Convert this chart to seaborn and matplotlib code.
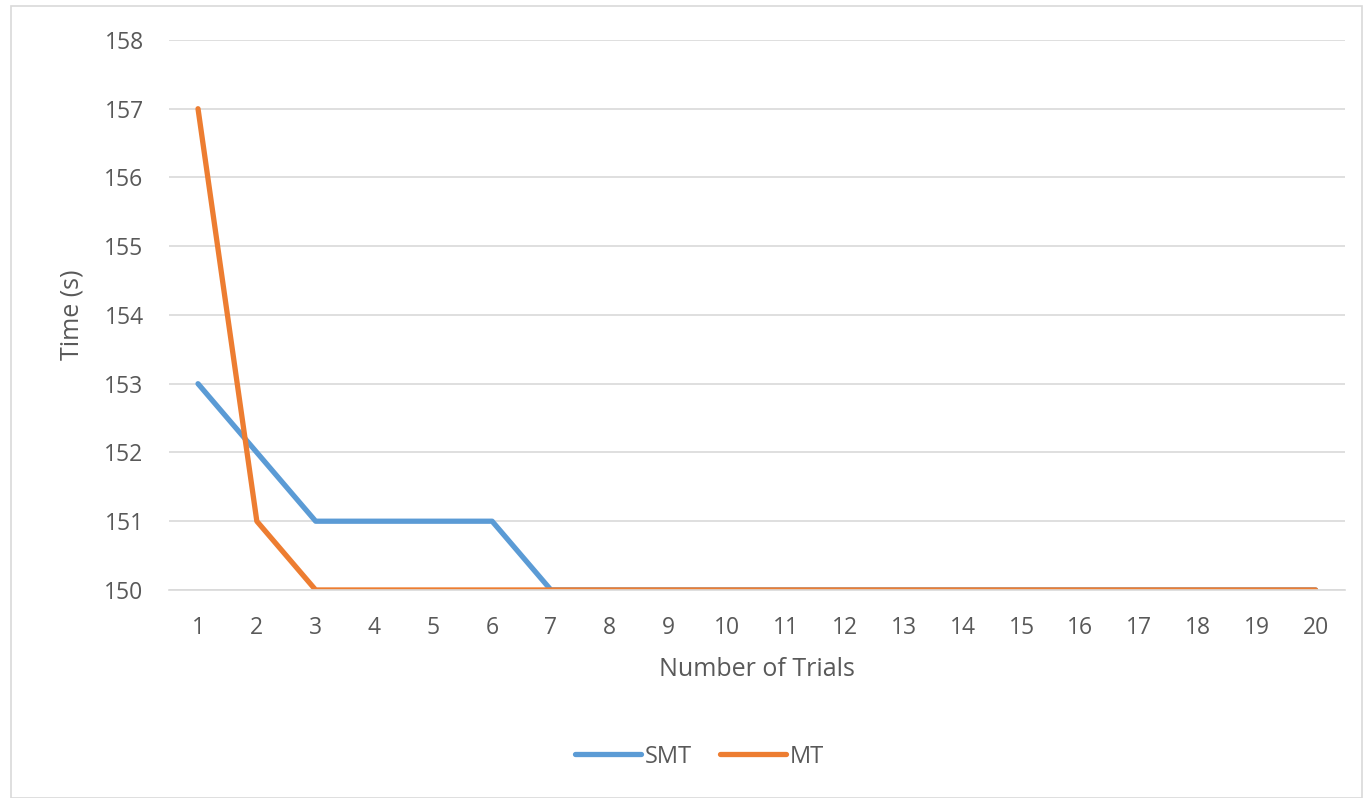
import pandas as pd
import matplotlib.pyplot as plt
import seaborn as sns
from matplotlib.patches import Rectangle
from matplotlib.lines import Line2D

trials = list(range(1, 21))
smt_time = [153, 152, 151, 151, 151, 151, 150, 150, 150, 150,
            150, 150, 150, 150, 150, 150, 150, 150, 150, 150]
mt_time = [157, 151, 150, 150, 150, 150, 150, 150, 150, 150,
           150, 150, 150, 150, 150, 150, 150, 150, 150, 150]
series_names = ["SMT", "MT"]
y_ticks = [150, 151, 152, 153, 154, 155, 156, 157, 158]

df = pd.DataFrame({
    "trial": trials * 2,
    "time": smt_time + mt_time,
    "series": [series_names[0]] * len(trials) + [series_names[1]] * len(trials),
})

sns.set_theme(style="white")
plt.rcParams['font.family'] = ['Open Sans', 'DejaVu Sans']
text_color = "#595959"
colors = {"SMT": "#5B9BD5", "MT": "#ED7D31"}

fig = plt.figure(figsize=(13.63, 7.98), dpi=100)
ax = fig.add_axes([0.1237, 0.2607, 0.8631, 0.6892])

sns.lineplot(
    data=df, x="trial", y="time", hue="series",
    palette=colors, linewidth=3.8, ax=ax, legend=False,
    solid_capstyle="round", solid_joinstyle="round",
)

ax.set_xlim(0.5, 20.5)
ax.set_ylim(150, 158)
ax.set_xticks(trials)
ax.set_yticks(y_ticks)
ax.tick_params(axis="both", labelsize=16.5, colors=text_color, length=0)
ax.tick_params(axis="x", pad=19)
ax.tick_params(axis="y", pad=18)
ax.grid(axis="y", color="#D9D9D9", linewidth=1.2)
ax.set_axisbelow(True)
for s in ["top", "right", "left"]:
    ax.spines[s].set_visible(False)
ax.spines["bottom"].set_color("#D9D9D9")
ax.spines["bottom"].set_linewidth(1.2)

ax.set_xlabel("Number of Trials", fontsize=18, color=text_color, labelpad=12)
ax.set_ylabel("Time (s)", fontsize=18, color=text_color, labelpad=14)

# legend
handles = [Line2D([0], [0], color=colors[n], lw=3.8, solid_capstyle="round")
           for n in series_names]
fig.legend(handles, series_names, loc="center", bbox_to_anchor=(0.513, 0.052),
           ncol=2, frameon=False, fontsize=17, handlelength=2.8,
           handletextpad=0.15, columnspacing=1.2, labelcolor=text_color)

fig.patches.append(Rectangle((11 / 1363, 0.0), 1 - 12 / 1363, 1 - 5 / 798 - 0.001,
                             transform=fig.transFigure, fill=False,
                             edgecolor="#D9D9D9", linewidth=1.2))

fig.savefig("out.png", dpi=100)
